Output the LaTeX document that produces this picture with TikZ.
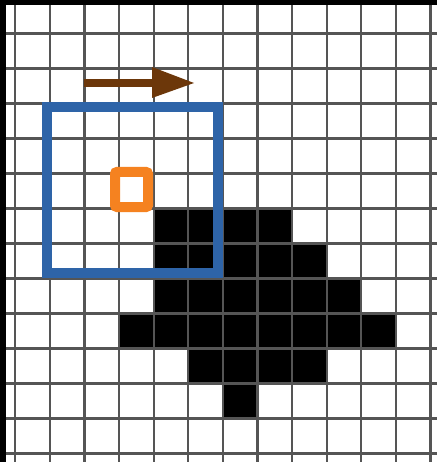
\documentclass[tikz,border=0pt]{standalone}
\begin{document}
\begin{tikzpicture}[x=1pt,y=-1pt,
  gridline/.style={line width=2.2pt,draw={rgb,255:red,85;green,85;blue,85}},
  cell/.style={fill=black},
  bluebox/.style={line width=10pt,draw={rgb,255:red,46;green,100;blue,168}},
  orangebox/.style={line width=10pt,draw={rgb,255:red,245;green,130;blue,32},rounded corners=2pt},
  brownfill/.style={fill={rgb,255:red,108;green,55;blue,10}},
  brownline/.style={line width=8pt,draw={rgb,255:red,108;green,55;blue,10}}]
\useasboundingbox (0,0) rectangle (437,462);
\fill[white] (0,0) rectangle (437,462);
% black cells
\foreach \r/\a/\b in {6/4/7,7/4/8,8/4/9,9/3/10,10/5/8,11/6/6}{
  \foreach \c in {\a,...,\b}{
    \fill[black] ({15.2+34.6*\c},{-1.5+35*\r}) rectangle ({15.2+34.6*(\c+1)},{-1.5+35*(\r+1)});
  }
}
% grid
\foreach \i in {0,...,12}{
  \draw[gridline] ({15.2+34.6*\i},0) -- ({15.2+34.6*\i},462);
}
\foreach \j in {1,...,13}{
  \draw[gridline] (0,{-1.5+35*\j}) -- (437,{-1.5+35*\j});
}
% borders
\fill[black] (0,0) rectangle (437,5);
\fill[black] (0,0) rectangle (6,462);
% blue window
\draw[bluebox] (47,107) rectangle (217.5,273);
% orange pixel
\draw[orangebox] (115,172) rectangle (148,207);
% arrow
\coordinate (as) at (84,83);
\coordinate (ab) at (154,83);
\coordinate (at) at (194,83);
\draw[brownline] (as) -- (ab);
\fill[brownfill] (152,67) -- (at) -- (152,98) -- cycle;
\end{tikzpicture}
\end{document}
